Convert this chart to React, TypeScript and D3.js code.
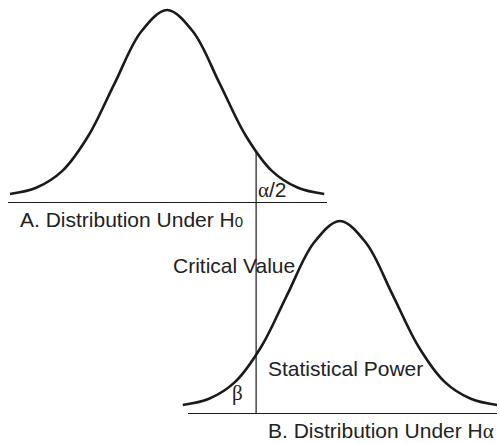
import React, { useEffect, useRef } from 'react';
import * as d3 from 'd3';

// positions along the test statistic axis (in standard deviations from each mean)
const zOffsets = [-3, -2.5, -2, -1.5, -1, -0.5, 0, 0.5, 1, 1.5, 2, 2.5, 3];
// relative curve heights
const h0Heights = [0.011, 0.044, 0.135, 0.325, 0.607, 0.882, 1, 0.882, 0.607, 0.325, 0.135, 0.044, 0.011];
const haHeights = [0.011, 0.044, 0.135, 0.325, 0.607, 0.882, 1, 0.882, 0.607, 0.325, 0.135, 0.044, 0.011];

const h0Mean = 0;
const haMean = 3.3;
const criticalValue = 1.7;
const criticalHeight = 0.236; // where the critical line meets the H0 curve

const labels = {
  a: 'A. Distribution Under H',
  b: 'B. Distribution Under H',
  critical: 'Critical Value',
  power: 'Statistical Power',
};

interface Pt {
  z: number;
  h: number;
}

const App: React.FC = () => {
  const svgRef = useRef<SVGSVGElement>(null);

  useEffect(() => {
    if (!svgRef.current) return;
    const svg = d3.select(svgRef.current);
    svg.selectAll('*').remove();

    const ink = '#1a1a1a';
    const font = '"Liberation Sans", Arial, Helvetica, sans-serif';
    const serif = '"Liberation Serif", "Times New Roman", serif';

    const x = d3.scaleLinear().domain([-3, 6.3]).range([10, 497]);
    const yTop = d3.scaleLinear().domain([0, 1]).range([196, 10]);
    const yBot = d3.scaleLinear().domain([0, 1]).range([407, 221]);

    const h0: Pt[] = zOffsets.map((z, i) => ({ z: h0Mean + z, h: h0Heights[i] }));
    const ha: Pt[] = zOffsets.map((z, i) => ({ z: haMean + z, h: haHeights[i] }));

    const lineTop = d3
      .line<Pt>()
      .x((d) => x(d.z))
      .y((d) => yTop(d.h))
      .curve(d3.curveCatmullRom.alpha(0.5));
    const lineBot = d3
      .line<Pt>()
      .x((d) => x(d.z))
      .y((d) => yBot(d.h))
      .curve(d3.curveCatmullRom.alpha(0.5));

    // baselines
    svg
      .append('line')
      .attr('x1', 8)
      .attr('x2', 327)
      .attr('y1', 202.5)
      .attr('y2', 202.5)
      .attr('stroke', ink)
      .attr('stroke-width', 1.2);
    svg
      .append('line')
      .attr('x1', 188)
      .attr('x2', 497)
      .attr('y1', 413.5)
      .attr('y2', 413.5)
      .attr('stroke', ink)
      .attr('stroke-width', 1.2);

    // critical value line, from the H0 curve down to the lower baseline
    svg
      .append('line')
      .attr('x1', x(criticalValue))
      .attr('x2', x(criticalValue))
      .attr('y1', yTop(criticalHeight))
      .attr('y2', 413.5)
      .attr('stroke', ink)
      .attr('stroke-width', 1.2);

    svg
      .append('path')
      .attr('d', lineTop(h0)!)
      .attr('fill', 'none')
      .attr('stroke', ink)
      .attr('stroke-width', 2.6);
    svg
      .append('path')
      .attr('d', lineBot(ha)!)
      .attr('fill', 'none')
      .attr('stroke', ink)
      .attr('stroke-width', 2.6);

    const txt = svg.append('g').attr('fill', '#222').attr('font-family', font).attr('font-size', 21);

    const a = txt.append('text').attr('x', 20).attr('y', 227).text(labels.a);
    a.append('tspan').attr('font-size', 15).text('0');

    const alpha = txt.append('text').attr('x', 258).attr('y', 197);
    alpha.append('tspan').attr('font-family', serif).attr('font-size', 21).text('α');
    alpha.append('tspan').text('/2');

    txt.append('text').attr('x', 173).attr('y', 273).text(labels.critical);
    txt.append('text').attr('x', 268).attr('y', 376).text(labels.power);
    txt
      .append('text')
      .attr('x', 232)
      .attr('y', 400)
      .attr('font-family', serif)
      .attr('font-size', 21)
      .text('β');

    const b = txt.append('text').attr('x', 268).attr('y', 438).text(labels.b);
    b.append('tspan').attr('font-family', serif).attr('font-size', 21).text('α');
  }, []);

  return (
    <svg
      ref={svgRef}
      width={500}
      height={443}
      style={{ position: 'absolute', left: 0, top: 0, background: '#fff' }}
    />
  );
};

export default App;
